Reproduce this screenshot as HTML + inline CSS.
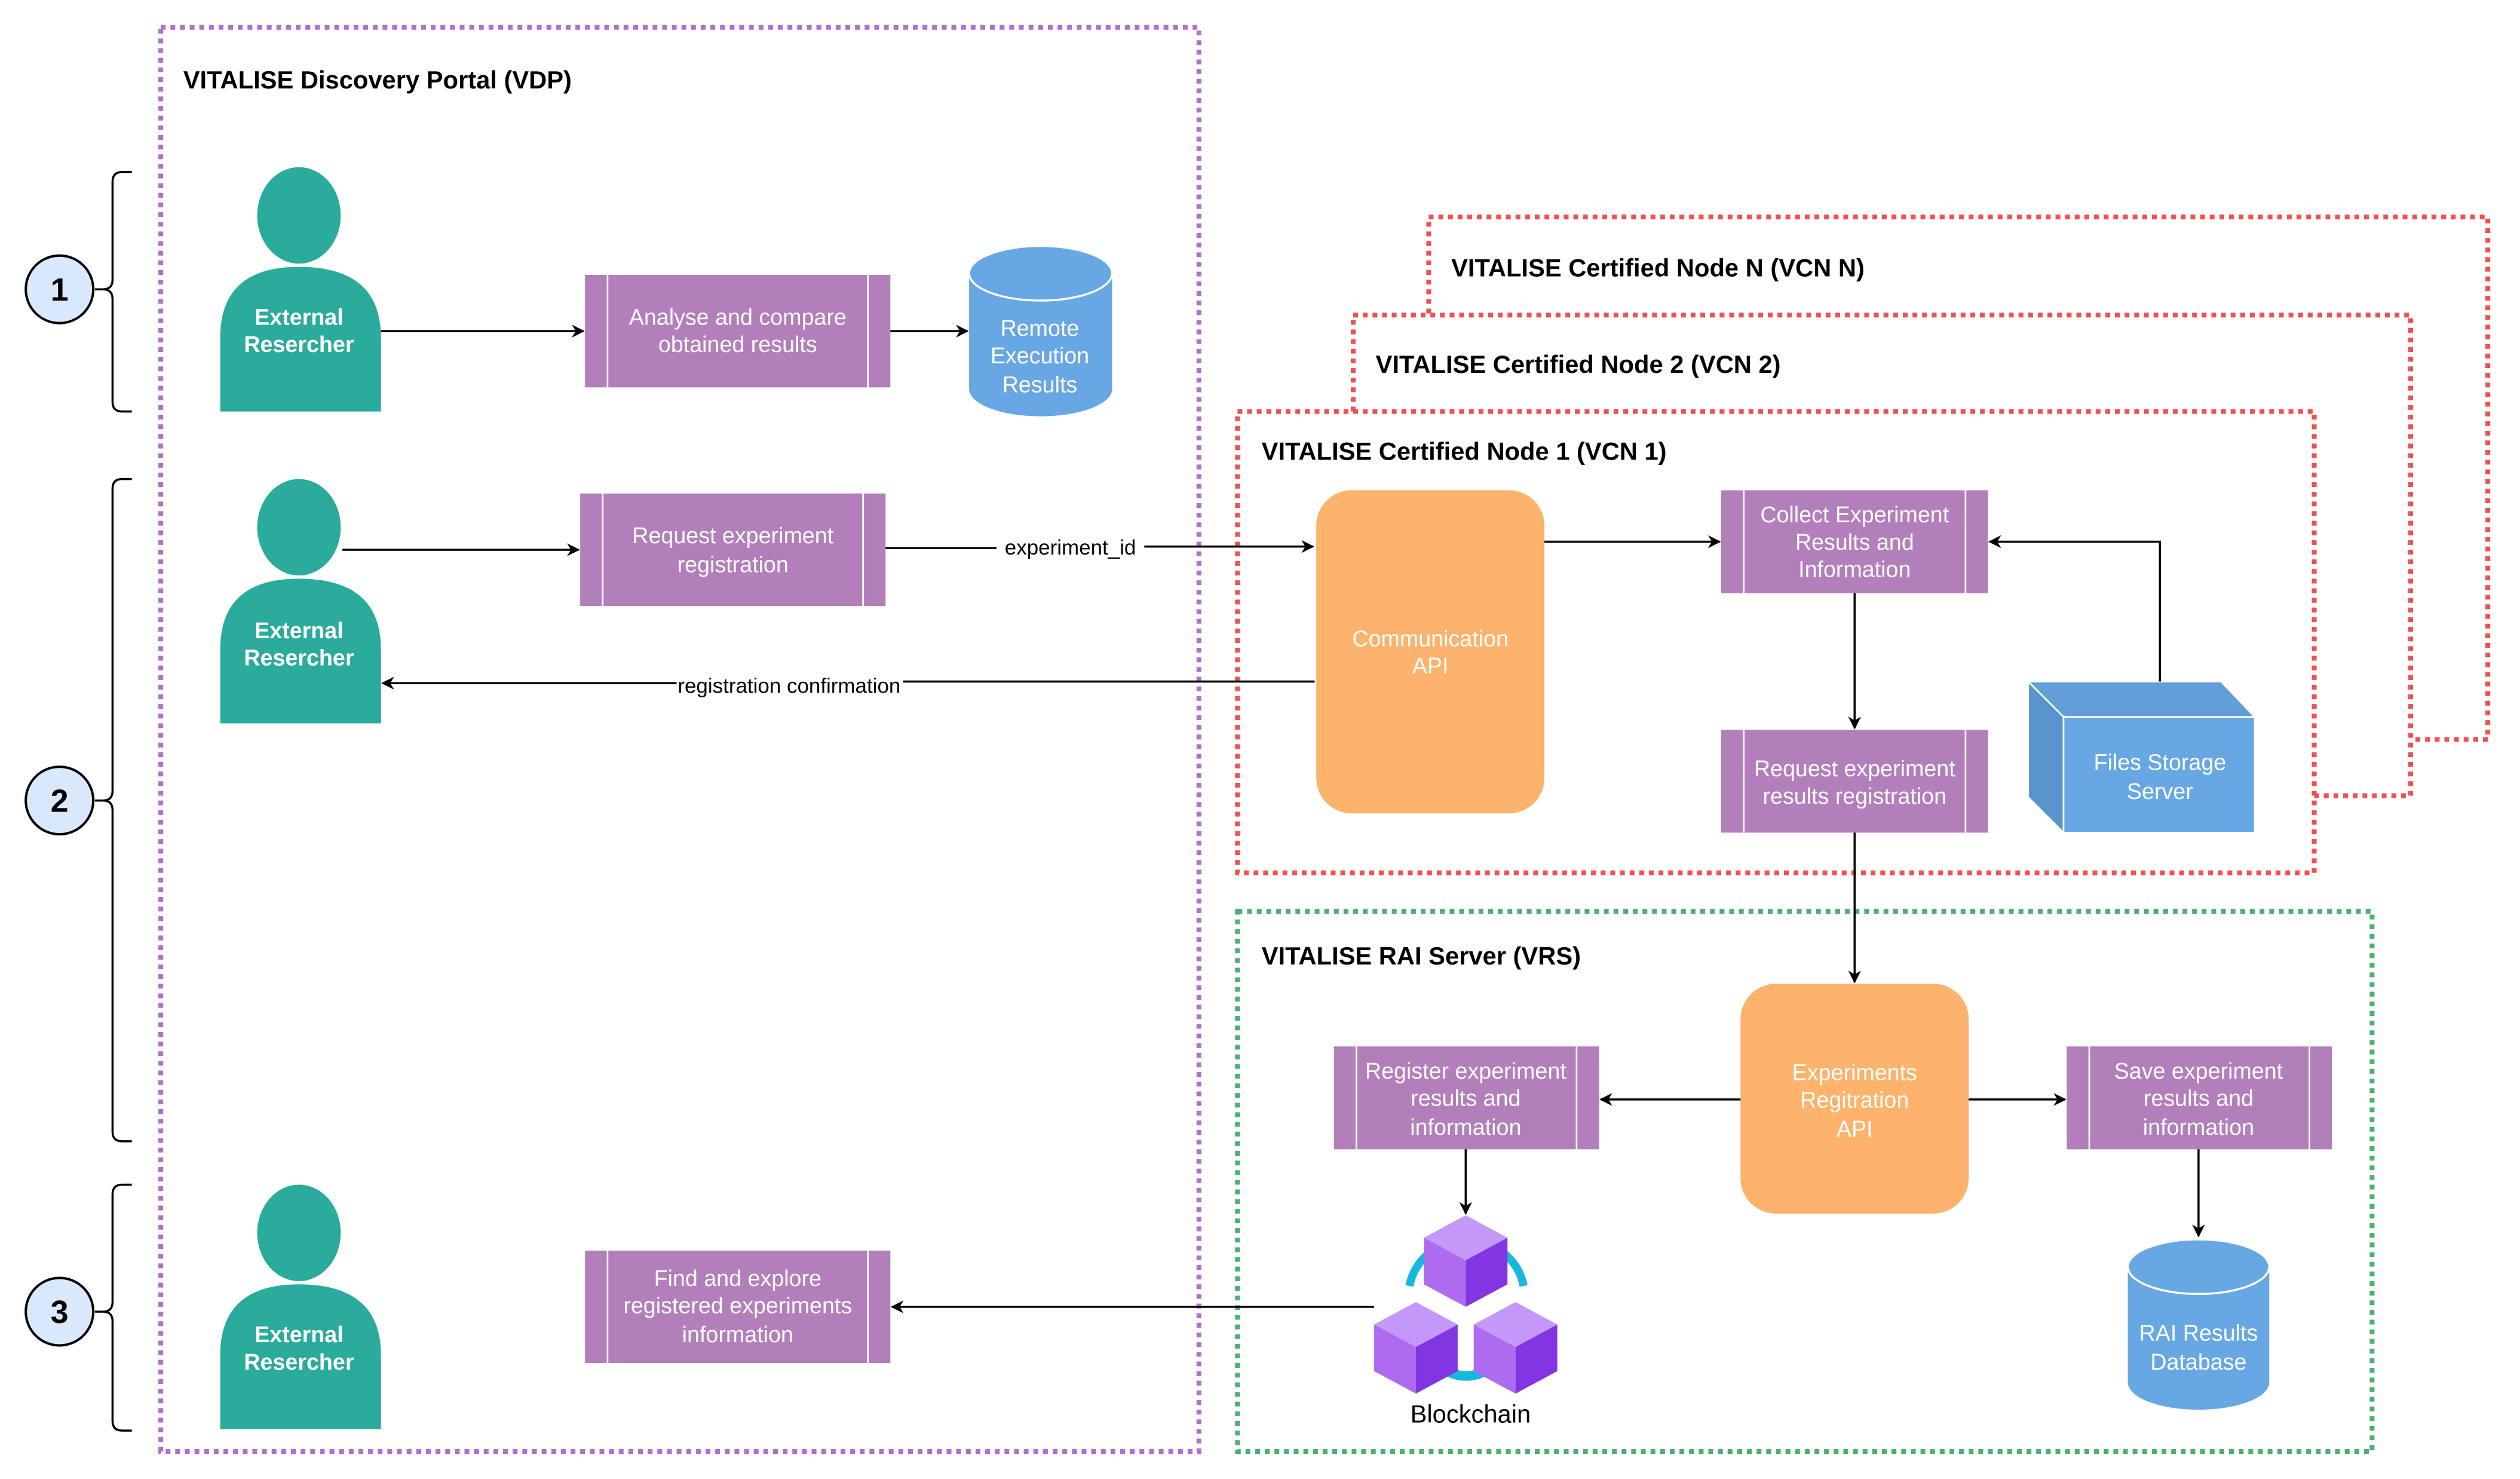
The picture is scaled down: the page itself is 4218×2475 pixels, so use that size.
<!DOCTYPE html>
<html><head><meta charset="utf-8"><style>
html,body{margin:0;padding:0;background:#fff;width:4218px;height:2475px;overflow:hidden}
svg{display:block}
text{font-family:"Liberation Sans",sans-serif}
.w{fill:#fff;font-size:14px;text-anchor:middle}
.b{fill:#000;font-weight:bold;font-size:15.5px}
.p{fill:#b27fbb}
.ln{stroke:#000;stroke-width:1.3;fill:none}
</style></head><body>
<svg width="4218" height="2475" viewBox="0 0 1568 920.1" xmlns="http://www.w3.org/2000/svg">
<defs>
<marker id="a" viewBox="0 0 10 10" refX="9" refY="5" markerWidth="8" markerHeight="8" orient="auto" markerUnits="userSpaceOnUse"><path d="M0,0 L10,5 L0,10 L3,5 z" fill="#000"/></marker>
</defs>
<rect width="1568" height="920.1" fill="#fff"/>
<rect x="100" y="17" width="646" height="886" fill="none" stroke="#b46ecf" stroke-width="3" stroke-dasharray="3,3"/>
<text x="114" y="55" class="b">VITALISE Discovery Portal (VDP)</text>
<rect x="889" y="135" width="659" height="325" fill="#fff" stroke="#f25050" stroke-width="3" stroke-dasharray="3,3"/>
<text x="903" y="172" class="b">VITALISE Certified Node N (VCN N)</text>
<rect x="842" y="196" width="658" height="299" fill="#fff" stroke="#f25050" stroke-width="3" stroke-dasharray="3,3"/>
<text x="856" y="232" class="b">VITALISE Certified Node 2 (VCN 2)</text>
<rect x="770" y="256" width="670" height="287" fill="#fff" stroke="#f25050" stroke-width="3" stroke-dasharray="3,3"/>
<text x="785" y="286" class="b">VITALISE Certified Node 1 (VCN 1)</text>
<rect x="770" y="567" width="706" height="336" fill="none" stroke="#4cb070" stroke-width="3" stroke-dasharray="3,3"/>
<text x="785" y="600" class="b">VITALISE RAI Server (VRS)</text>
<g stroke="#000" stroke-width="1.5" fill="#dae8fc">
<circle cx="37" cy="180" r="21"/><circle cx="37" cy="498" r="21"/><circle cx="37" cy="816" r="21"/>
</g>
<g font-size="20" font-weight="bold" text-anchor="middle" fill="#000"><text x="37" y="187">1</text><text x="37" y="505">2</text><text x="37" y="823">3</text></g>
<g class="ln">
<path d="M82,107 h-6 q-6,0 -6,6 v61 q0,6 -6,6 h-5 h5 q6,0 6,6 v64 q0,6 6,6 h6"/>
<path d="M82,298 h-6 q-6,0 -6,6 v188 q0,6 -6,6 h-5 h5 q6,0 6,6 v200 q0,6 6,6 h6"/>
<path d="M82,737 h-6 q-6,0 -6,6 v67 q0,6 -6,6 h-5 h5 q6,0 6,6 v62 q0,6 6,6 h6"/>
</g>
<g fill="#2aab9b">
<ellipse cx="186" cy="134" rx="26" ry="30"/><path d="M137,256 V210 Q137,166 186,166 Q237,166 237,210 V256 z"/>
<ellipse cx="186" cy="328" rx="26" ry="30"/><path d="M137,450 V404 Q137,360 186,360 Q237,360 237,404 V450 z"/>
<ellipse cx="186" cy="767" rx="26" ry="30"/><path d="M137,889 V843 Q137,799 186,799 Q237,799 237,843 V889 z"/>
</g>
<g class="w" font-weight="bold">
<text x="186" y="202">External</text><text x="186" y="219">Resercher</text>
<text x="186" y="397">External</text><text x="186" y="414">Resercher</text>
<text x="186" y="835">External</text><text x="186" y="852">Resercher</text>
</g>
<g>
<rect class="p" x="364" y="171" width="190" height="70"/>
<rect class="p" x="361" y="307" width="190" height="70"/>
<rect class="p" x="364" y="778" width="190" height="70"/>
<rect class="p" x="1071" y="305" width="166" height="64"/>
<rect class="p" x="1071" y="454" width="166" height="64"/>
<rect class="p" x="830" y="651" width="165" height="64"/>
<rect class="p" x="1286" y="651" width="165" height="64"/>
</g>
<g stroke="#fff" stroke-width="1">
<path d="M378,171v70M540,171v70 M375,307v70M537,307v70 M378,778v70M540,778v70 M1085,305v64M1223,305v64 M1085,454v64M1223,454v64 M844,651v64M981,651v64 M1300,651v64M1437,651v64"/>
</g>
<g class="w">
<text x="459" y="202">Analyse and compare</text><text x="459" y="219">obtained results</text>
<text x="456" y="338">Request experiment</text><text x="456" y="356">registration</text>
<text x="459" y="800">Find and explore</text><text x="459" y="817">registered experiments</text><text x="459" y="835">information</text>
<text x="1154" y="325">Collect Experiment</text><text x="1154" y="342">Results and</text><text x="1154" y="359">Information</text>
<text x="1154" y="483">Request experiment</text><text x="1154" y="500">results registration</text>
<text x="912" y="671">Register experiment</text><text x="912" y="688">results and</text><text x="912" y="706">information</text>
<text x="1368" y="671">Save experiment</text><text x="1368" y="688">results and</text><text x="1368" y="706">information</text>
</g>
<g fill="#67a7e3">
<path d="M603,170 V242 A44.5,17 0 0 0 692,242 V170 z"/><ellipse cx="647.5" cy="170" rx="44.5" ry="17" stroke="#fff" stroke-width="1.3"/>
<path d="M1324,788 V860 A44,17 0 0 0 1412,860 V788 z"/><ellipse cx="1368" cy="788" rx="44" ry="17" stroke="#fff" stroke-width="1.3"/>
</g>
<g class="w">
<text x="647" y="209">Remote</text><text x="647" y="226">Execution</text><text x="647" y="244">Results</text>
<text x="1368" y="834">RAI Results</text><text x="1368" y="852">Database</text>
</g>
<rect x="819" y="305" width="142" height="201" rx="22" fill="#fdb36b"/>
<rect x="1083" y="612" width="142" height="143" rx="22" fill="#fdb36b"/>
<g class="w">
<text x="890" y="402">Communication</text><text x="890" y="419">API</text>
<text x="1154" y="672">Experiments</text><text x="1154" y="689">Regitration</text><text x="1154" y="707">API</text>
</g>
<path d="M1262,424 H1382 L1403,446 H1284 z" fill="#629ed8" stroke="#fff" stroke-width="1"/>
<path d="M1262,424 L1284,446 V518 L1262,496 z" fill="#5a94cc" stroke="#fff" stroke-width="1"/>
<rect x="1284" y="446" width="119" height="72" fill="#67a7e3" stroke="#fff" stroke-width="1"/>
<g class="w"><text x="1344" y="479">Files Storage</text><text x="1344" y="497">Server</text></g>
<g>
<path d="M877,800 A36,34 0 0 1 948,800" fill="none" stroke="#16b8db" stroke-width="5"/>
<path d="M893,848 Q912,864 932,848" fill="none" stroke="#16b8db" stroke-width="6"/>
<path d="M912,756 L938,770 L912,784 L886,770 z" fill="#c398f8"/>
<path d="M886,770 L912,784 V813 L886,799 z" fill="#ad6cf0"/>
<path d="M912,784 L938,770 V799 L912,813 z" fill="#8235e0"/>
<path d="M881,810 L907,824 L881,838 L855,824 z" fill="#c398f8"/>
<path d="M855,824 L881,838 V867 L855,853 z" fill="#ad6cf0"/>
<path d="M881,838 L907,824 V853 L881,867 z" fill="#8235e0"/>
<path d="M943,810 L969,824 L943,838 L917,824 z" fill="#c398f8"/>
<path d="M917,824 L943,838 V867 L917,853 z" fill="#ad6cf0"/>
<path d="M943,838 L969,824 V853 L943,867 z" fill="#8235e0"/>
</g>
<text x="915" y="885" font-size="15.5" text-anchor="middle" fill="#000">Blockchain</text>
<g class="ln" marker-end="url(#a)">
<path d="M237,206 H363"/>
<path d="M554,206 H602"/>
<path d="M213,342 H360"/>
<path d="M551,341 L620,341 M712,340 L817,340" />
<path d="M818,424 L562,424 M421,425 L238,425"/>
<path d="M961,337 H1070"/>
<path d="M1154,369 V453"/>
<path d="M1344,424 V337 H1238"/>
<path d="M1154,518 V611"/>
<path d="M1083,684 H996"/>
<path d="M1225,684 H1285"/>
<path d="M912,715 V755"/>
<path d="M1368,715 V769"/>
<path d="M855,813 H555"/>
</g>
<g font-size="13" fill="#000" text-anchor="middle">
<text x="666" y="345">experiment_id</text>
<text x="491" y="431">registration confirmation</text>
</g>
</svg>
</body></html>
